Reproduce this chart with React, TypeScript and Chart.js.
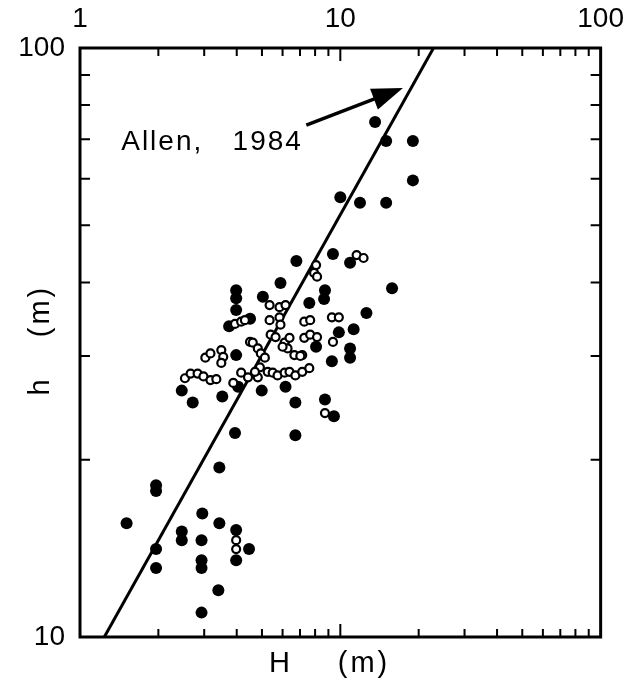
import React, { useEffect, useRef } from 'react';
import { Chart, registerables } from 'chart.js';

Chart.register(...registerables);

// Axis tick labels
const xTickValues = [1, 10, 100];
const yTickValues = [10, 100];
const xMinorTicks = [2, 3, 4, 5, 6, 7, 8, 9, 10, 20, 30, 40, 50, 60, 70, 80, 90];
const yMinorTicks = [20, 30, 40, 50, 60, 70, 80, 90];

// Filled circles: H (m), h (m)
const filledH = [13.6, 15.0, 19.0, 19.0, 10.0, 11.9, 15.0, 6.78, 9.37, 10.9, 5.89, 15.8, 3.98, 3.98, 5.04, 7.6, 8.73, 8.66, 3.98, 12.6, 11.25, 9.87, 10.9, 10.9, 9.28, 3.98, 2.71, 2.46, 3.52, 4.99, 6.16, 6.72, 8.73, 3.94, 6.72, 8.07, 4.5, 3.74, 1.51, 1.96, 1.96, 1.96, 1.96, 2.46, 2.46, 2.95, 2.93, 2.93, 2.93, 3.43, 3.43, 3.98, 3.98, 4.46, 3.4, 2.93, 4.05, 9.45];
const filledh = [74.9, 69.5, 69.5, 59.6, 55.8, 54.6, 54.6, 43.5, 44.7, 43.2, 39.9, 39.1, 38.8, 37.6, 37.8, 36.9, 38.8, 37.5, 35.9, 35.5, 33.3, 32.9, 30.9, 29.8, 29.4, 30.1, 25.0, 26.2, 25.6, 26.2, 26.6, 25.0, 25.3, 22.2, 22.0, 31.1, 34.7, 33.7, 15.6, 18.1, 17.7, 14.1, 13.1, 15.1, 14.6, 16.2, 14.6, 13.5, 13.1, 19.4, 15.6, 15.2, 13.5, 14.1, 12.0, 11.0, 26.6, 23.7];

// Open circles: H (m), h (m)
const openH = [2.53, 2.66, 2.83, 2.98, 3.17, 3.34, 3.03, 3.17, 3.49, 3.55, 3.49, 3.94, 4.16, 4.3, 4.5, 4.16, 4.42, 4.82, 3.88, 4.91, 4.7, 4.61, 4.82, 4.95, 5.13, 5.35, 5.84, 6.16, 5.84, 5.89, 5.4, 5.64, 6.11, 6.27, 6.38, 6.66, 7.14, 7.27, 7.66, 7.27, 7.66, 8.14, 9.37, 9.28, 9.87, 11.55, 12.28, 7.93, 8.14, 5.26, 5.5, 5.74, 6.11, 6.38, 6.72, 7.14, 7.6, 8.73, 6.0, 7.02, 5.35, 3.98, 3.98, 8.07];
const openh = [27.5, 28.0, 28.0, 27.7, 27.3, 27.4, 29.8, 30.3, 30.7, 29.9, 29.2, 34.0, 34.3, 34.5, 31.7, 28.1, 27.6, 27.6, 27.0, 28.7, 28.2, 31.6, 30.9, 30.3, 29.8, 36.6, 36.3, 36.6, 34.9, 33.9, 32.6, 32.3, 31.6, 30.9, 32.2, 30.1, 30.1, 34.3, 34.5, 32.2, 32.6, 32.3, 31.7, 34.9, 34.9, 44.5, 44.0, 41.5, 40.9, 28.2, 28.1, 27.8, 28.1, 28.2, 27.8, 28.2, 28.6, 24.0, 31.1, 30.0, 34.5, 14.6, 14.1, 42.8];

// Allen (1984) relation line
const allenH = [1.24, 22.8];
const allenh = [10, 100];

// Annotation (data coordinates)
const annotationText = 'Allen,   1984';
const annotationAt = [1.44, 67.1];
const arrowTail = [7.4, 74.0];
const arrowTip = [17.4, 85.5];

const xTitle = ['H', '(m)'];
const yTitle = ['h', '(m)'];

const FONT = '"Liberation Sans", Arial, Helvetica, sans-serif';

const decorPlugin = {
  id: 'decor',
  afterDatasetsDraw(chart: any) {
    const { ctx, chartArea: a, scales } = chart;
    const xs = scales.x;
    const ys = scales.y;
    ctx.save();
    ctx.strokeStyle = '#000';
    ctx.fillStyle = '#000';
    // frame
    ctx.lineWidth = 3;
    ctx.strokeRect(a.left, a.top, a.right - a.left, a.bottom - a.top);
    // inner ticks
    ctx.lineWidth = 2;
    ctx.beginPath();
    xMinorTicks.forEach((v) => {
      const px = xs.getPixelForValue(v);
      const len = v === 10 ? 13 : 8;
      ctx.moveTo(px, a.top);
      ctx.lineTo(px, a.top + len);
      ctx.moveTo(px, a.bottom);
      ctx.lineTo(px, a.bottom - len);
    });
    yMinorTicks.forEach((v) => {
      const py = ys.getPixelForValue(v);
      ctx.moveTo(a.left, py);
      ctx.lineTo(a.left + 10, py);
      ctx.moveTo(a.right, py);
      ctx.lineTo(a.right - 10, py);
    });
    ctx.stroke();

    // arrow
    const tx = xs.getPixelForValue(arrowTail[0]);
    const ty = ys.getPixelForValue(arrowTail[1]);
    const hx = xs.getPixelForValue(arrowTip[0]);
    const hy = ys.getPixelForValue(arrowTip[1]);
    const dx = hx - tx;
    const dy = hy - ty;
    const d = Math.sqrt(dx * dx + dy * dy);
    const ux = dx / d;
    const uy = dy / d;
    const headLen = 31;
    const headHalf = 11;
    const bx = hx - ux * headLen;
    const by = hy - uy * headLen;
    ctx.lineWidth = 3.5;
    ctx.beginPath();
    ctx.moveTo(tx, ty);
    ctx.lineTo(bx + ux * 4, by + uy * 4);
    ctx.stroke();
    ctx.beginPath();
    ctx.moveTo(hx, hy);
    ctx.lineTo(bx - uy * headHalf, by + ux * headHalf);
    ctx.lineTo(bx + uy * headHalf, by - ux * headHalf);
    ctx.closePath();
    ctx.fill();

    // annotation text
    ctx.font = `28px ${FONT}`;
    (ctx as any).letterSpacing = '2px';
    ctx.textAlign = 'left';
    ctx.textBaseline = 'alphabetic';
    ctx.fillText(annotationText, xs.getPixelForValue(annotationAt[0]), ys.getPixelForValue(annotationAt[1]));

    // axis titles
    ctx.font = `29px ${FONT}`;
    (ctx as any).letterSpacing = '3px';
    ctx.textAlign = 'center';
    ctx.textBaseline = 'middle';
    const cy = a.bottom + 27;
    ctx.fillText(xTitle[0], a.left + 201, cy);
    ctx.fillText(xTitle[1], a.left + 284, cy);

    ctx.save();
    ctx.translate(41, 0);
    ctx.rotate(-Math.PI / 2);
    ctx.fillText(yTitle[0], -386, 0);
    ctx.fillText(yTitle[1], -311, 0);
    ctx.restore();

    ctx.restore();
  },
};

export default function App() {
  const canvasRef = useRef<HTMLCanvasElement | null>(null);

  useEffect(() => {
    const canvas = canvasRef.current;
    if (!canvas) return;
    const tickFont = { family: FONT, size: 28 };
    const chart = new Chart(canvas, {
      type: 'scatter',
      data: {
        datasets: [
          {
            label: 'Allen, 1984',
            data: allenH.map((x, i) => ({ x, y: allenh[i] })),
            showLine: true,
            borderColor: '#000',
            borderWidth: 3,
            pointRadius: 0,
            order: 2,
          },
          {
            label: 'filled',
            data: filledH.map((x, i) => ({ x, y: filledh[i] })),
            pointRadius: 6,
            backgroundColor: '#000',
            borderColor: '#000',
            borderWidth: 0,
            order: 1,
          },
          {
            label: 'open',
            data: openH.map((x, i) => ({ x, y: openh[i] })),
            pointRadius: 4,
            backgroundColor: '#fff',
            borderColor: '#000',
            borderWidth: 2.2,
            order: 0,
          },
        ],
      },
      options: {
        responsive: false,
        animation: false,
        layout: { padding: { left: 0, top: 0, right: 29, bottom: 53 } },
        plugins: { legend: { display: false }, tooltip: { enabled: false } },
        scales: {
          x: {
            type: 'logarithmic',
            position: 'top',
            min: 1,
            max: 100,
            grid: { display: false, drawTicks: false },
            border: { display: false },
            ticks: {
              color: '#000',
              font: tickFont,
              padding: 12,
              maxRotation: 0,
              autoSkip: false,
              callback: (v: any) => String(v),
            },
            afterBuildTicks: (s: any) => {
              s.ticks = xTickValues.map((v) => ({ value: v }));
            },
            afterFit: (s: any) => {
              s.height = 48;
            },
          },
          y: {
            type: 'logarithmic',
            position: 'left',
            min: 10,
            max: 100,
            grid: { display: false, drawTicks: false },
            border: { display: false },
            ticks: {
              color: '#000',
              font: tickFont,
              padding: 15,
              autoSkip: false,
              callback: (v: any) => String(v),
            },
            afterBuildTicks: (s: any) => {
              s.ticks = yTickValues.map((v) => ({ value: v }));
            },
            afterFit: (s: any) => {
              s.width = 80;
            },
          },
        },
      } as any,
      plugins: [decorPlugin],
    });
    return () => chart.destroy();
  }, []);

  return (
    <div style={{ position: 'absolute', left: 0, top: 0, width: 636, height: 690, background: '#fff' }}>
      <canvas ref={canvasRef} width={636} height={690} style={{ display: 'block' }} />
    </div>
  );
}
